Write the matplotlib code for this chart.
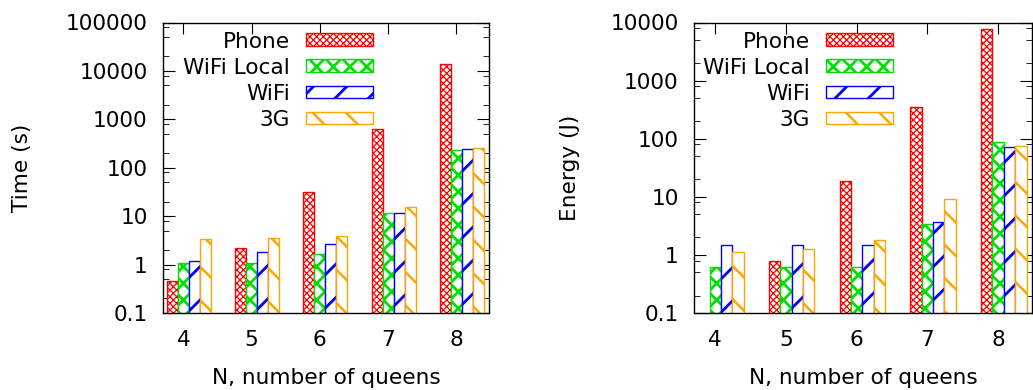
import numpy as np
import matplotlib.pyplot as plt
from matplotlib.patches import Rectangle
from matplotlib.ticker import LogLocator, NullFormatter, FuncFormatter

plt.rcParams["font.family"] = "DejaVu Sans"
plt.rcParams["font.size"] = 15.6

queens = ["4", "5", "6", "7", "8"]
series = ["Phone", "WiFi Local", "WiFi", "3G"]
colors = ["#ff0000", "#00e000", "#0000ff", "#ffa500"]
hatches = ["xxxxx", "xx", "/", "\\"]
hatch_lw = [0.9, 2.0, 2.0, 1.8]

# Time (s)
time_phone = [0.46, 2.2, 31, 620, 14000]
time_wifi_local = [1.06, 1.1, 1.65, 11.5, 230]
time_wifi = [1.2, 1.8, 2.65, 11.6, 240]
time_3g = [3.3, 3.5, 3.85, 15.5, 250]

# Energy (J)
energy_phone = [np.nan, 0.78, 18.5, 356, 7800]
energy_wifi_local = [0.61, 0.61, 0.61, 3.36, 89]
energy_wifi = [1.46, 1.46, 1.46, 3.65, 72]
energy_3g = [1.11, 1.25, 1.83, 9.1, 75]

W, H = 1033, 390
fig = plt.figure(figsize=(W / 100, H / 100), dpi=100)

top_px, bot_px = 22.5, 313.0


def make_axes(x0, x1):
    return fig.add_axes([x0 / W, 1 - bot_px / H, (x1 - x0) / W, (bot_px - top_px) / H])


def draw(ax, data, ymax, ylabel, ylabel_x, text_px, handle_px):
    ax.set_yscale("log")
    x = np.arange(len(queens))
    w = 0.161
    for j, vals in enumerate(data):
        with plt.rc_context({"hatch.linewidth": hatch_lw[j]}):
            bars = ax.bar(x + (j - 1) * w, vals, w, color="white",
                          edgecolor=colors[j], hatch=hatches[j], linewidth=1.0,
                          zorder=2)
        for b in bars:
            if hasattr(b, "set_hatch_linewidth"):
                b.set_hatch_linewidth(hatch_lw[j])

    ax.set_xlim(-0.30, 4.48)
    ax.set_ylim(0.1, ymax)
    ax.set_xticks(x)
    ax.set_xticklabels(queens)
    ax.yaxis.set_major_locator(LogLocator(base=10, numticks=20))
    ax.yaxis.set_minor_locator(LogLocator(base=10, subs=(2, 5, 8), numticks=20))
    ax.yaxis.set_minor_formatter(NullFormatter())
    ax.yaxis.set_major_formatter(FuncFormatter(lambda v, p: f"{v:g}"))
    ax.tick_params(axis="x", which="both", direction="in", top=True,
                   length=7.7, pad=12)
    ax.tick_params(axis="y", which="major", direction="in", right=True,
                   length=8.4, pad=11)
    ax.tick_params(axis="y", which="minor", direction="in", right=True,
                   length=4.2)
    for s in ax.spines.values():
        s.set_linewidth(1.0)

    ax.set_xlabel("N, number of queens")
    ax.xaxis.set_label_coords(0.5, -0.19)
    ax.set_ylabel(ylabel)
    ax.yaxis.set_label_coords(ylabel_x, 0.5)

    # gnuplot-style key: label right-aligned, sample to its right
    width_px = ax.get_position().width * W
    height_px = bot_px - top_px
    tx = text_px / width_px
    hx = handle_px / width_px
    hw = 67.7 / width_px
    hh = 12.7 / height_px
    for j, name in enumerate(series):
        yc = 1 - (17.2 + 26.1 * j) / height_px
        ax.text(tx, yc, name, transform=ax.transAxes, ha="right",
                va="center_baseline")
        with plt.rc_context({"hatch.linewidth": hatch_lw[j]}):
            r = Rectangle((hx, yc - hh / 2), hw, hh, transform=ax.transAxes,
                          facecolor="white", edgecolor=colors[j],
                          hatch=hatches[j], linewidth=1.0, zorder=3)
        if hasattr(r, "set_hatch_linewidth"):
            r.set_hatch_linewidth(hatch_lw[j])
        ax.add_patch(r)


ax1 = make_axes(163, 489)
draw(ax1, [time_phone, time_wifi_local, time_wifi, time_3g], 100000,
     "Time (s)", -0.402, 127, 142.7)

ax2 = make_axes(694, 1032)
draw(ax2, [energy_phone, energy_wifi_local, energy_wifi, energy_3g], 10000,
     "Energy (J)", -0.337, 116, 131.7)

fig.savefig("out.png", dpi=100)
